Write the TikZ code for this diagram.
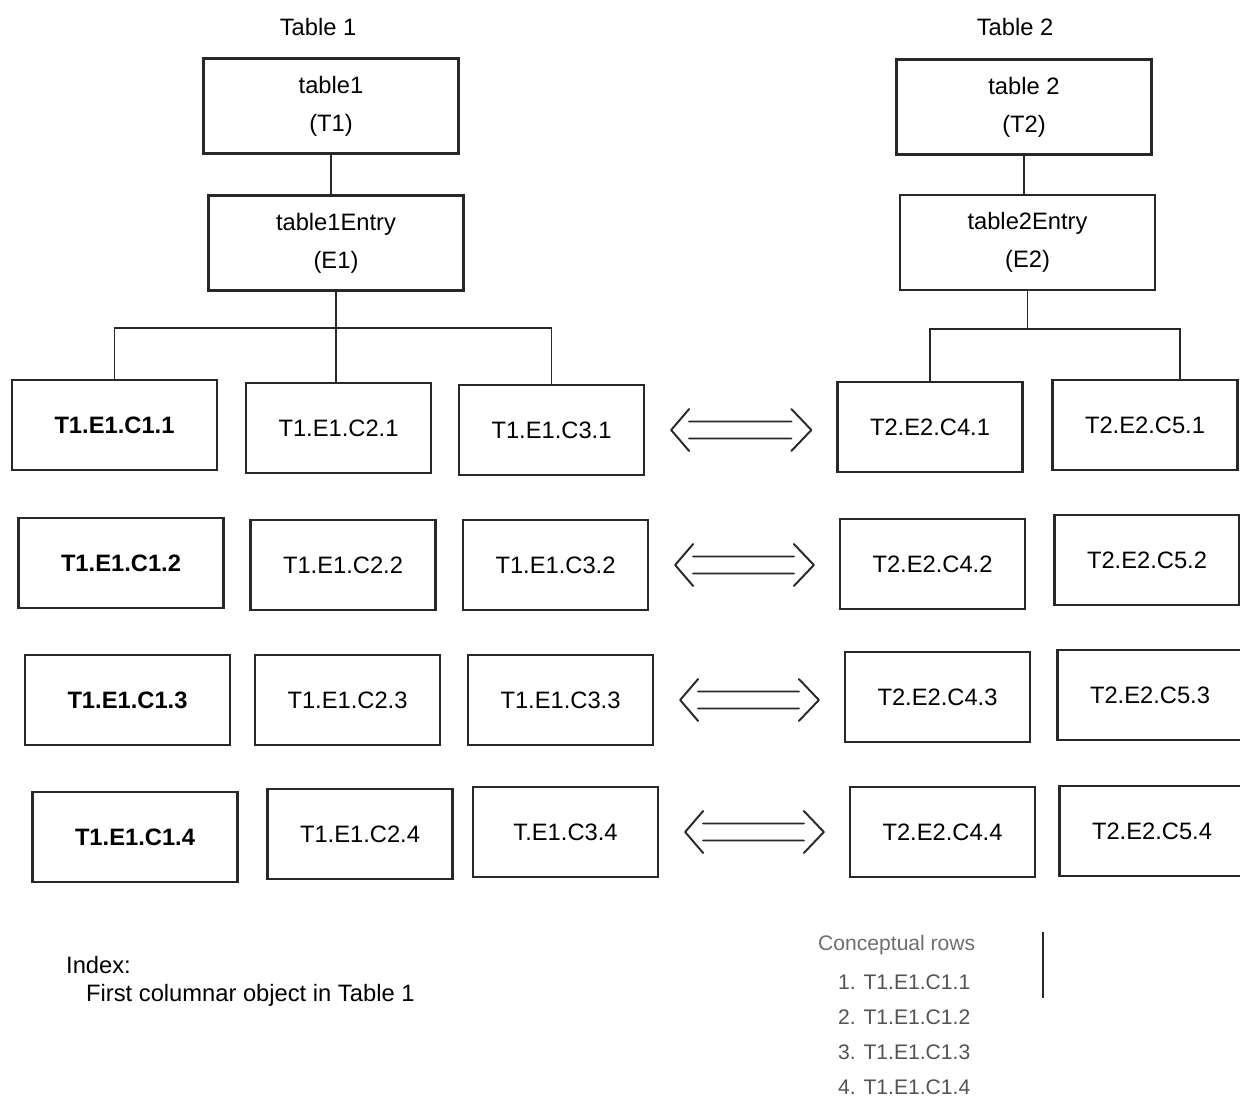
\documentclass[tikz,border=0pt]{standalone}
\usepackage{fontspec}
\setmainfont{Liberation Sans}
\usepackage{tikz}
\usetikzlibrary{arrows.meta, positioning, calc}
\definecolor{inkgray}{RGB}{40,40,40}
\definecolor{softgray}{RGB}{110,110,110}

\begin{document}
\begin{tikzpicture}[
    font=\fontsize{13.5}{16}\selectfont,
    box/.style={draw=inkgray, line width=1.3pt, minimum height=1.8cm,
                align=center, inner sep=2pt},
    tbox/.style={box, minimum width=5.1cm, minimum height=1.9cm,
                 font=\fontsize{13.5}{21.5}\selectfont},
    keybox/.style={box, minimum width=4.1cm,
                   font=\fontsize{13.5}{16}\selectfont\bfseries},
    cellbox/.style={box, minimum width=3.7cm},
    link/.style={line width=1pt, color=inkgray},
    % open double-lined arrow, heads at both ends
    biarrow/.style={line width=1.1pt, color=inkgray, line cap=round, line join=round,
      to path={
        ($(\tikztostart)+(0.88,0.17)$)  -- ($(\tikztotarget)+(-0.90,0.17)$)
        ($(\tikztostart)+(0.88,-0.17)$) -- ($(\tikztotarget)+(-0.90,-0.17)$)
        ($(\tikztostart)+(0.88,0.42)$)  -- ($(\tikztostart)+(0.52,0)$)
                                        -- ($(\tikztostart)+(0.88,-0.42)$)
        ($(\tikztotarget)+(-0.90,0.42)$) -- ($(\tikztotarget)+(-0.50,0)$)
                                         -- ($(\tikztotarget)+(-0.90,-0.42)$)}},
    caption/.style={font=\fontsize{13.5}{16}\selectfont},
    note/.style={font=\fontsize{13.5}{16}\selectfont, anchor=west},
    rows/.style={font=\fontsize{12}{20}\selectfont, text=softgray, align=left},
]
\useasboundingbox (0,0) rectangle (24.8,-22.02);

% ── Table 1 hierarchy ──────────────────────────────────────────────────
\node[tbox]    (table1) at (6.62,-2.12) {table1\\(T1)};
\node[tbox]    (entry1) at (6.72,-4.86) {table1Entry\\(E1)};
\node[caption] (cap1)   at (6.36,-0.54) {Table 1};

% ── Table 2 hierarchy ──────────────────────────────────────────────────
\node[tbox]    (table2) at (20.48,-2.14) {table 2\\(T2)};
\node[tbox]    (entry2) at (20.55,-4.85) {table2Entry\\(E2)};
\node[caption] (cap2)   at (20.30,-0.54) {Table 2};

% ── Row 1 ──────────────────────────────────────────────────────────────
\node[keybox]  (c1-1) at (2.29,-8.50)  {T1.E1.C1.1};
\node[cellbox] (c2-1) at (6.77,-8.56)  {T1.E1.C2.1};
\node[cellbox] (c3-1) at (11.03,-8.60) {T1.E1.C3.1};
\node[cellbox] (c4-1) at (18.60,-8.54) {T2.E2.C4.1};
\node[cellbox] (c5-1) at (22.90,-8.50) {T2.E2.C5.1};

% ── Row 2 ──────────────────────────────────────────────────────────────
\node[keybox]  (c1-2) at (2.42,-11.26)  {T1.E1.C1.2};
\node[cellbox] (c2-2) at (6.86,-11.30)  {T1.E1.C2.2};
\node[cellbox] (c3-2) at (11.11,-11.30) {T1.E1.C3.2};
\node[cellbox] (c4-2) at (18.65,-11.28) {T2.E2.C4.2};
\node[cellbox] (c5-2) at (22.94,-11.20) {T2.E2.C5.2};

% ── Row 3 ──────────────────────────────────────────────────────────────
\node[keybox]  (c1-3) at (2.55,-14.00)  {T1.E1.C1.3};
\node[cellbox] (c2-3) at (6.95,-14.00)  {T1.E1.C2.3};
\node[cellbox] (c3-3) at (11.21,-14.00) {T1.E1.C3.3};
\node[cellbox] (c4-3) at (18.75,-13.94) {T2.E2.C4.3};
\node[cellbox] (c5-3) at (23.00,-13.90) {T2.E2.C5.3};

% ── Row 4 ──────────────────────────────────────────────────────────────
\node[keybox]  (c1-4) at (2.70,-16.74)  {T1.E1.C1.4};
\node[cellbox] (c2-4) at (7.20,-16.68)  {T1.E1.C2.4};
\node[cellbox] (c3-4) at (11.31,-16.64) {T.E1.C3.4};
\node[cellbox] (c4-4) at (18.85,-16.64) {T2.E2.C4.4};
\node[cellbox] (c5-4) at (23.04,-16.62) {T2.E2.C5.4};

% ── Tree links ─────────────────────────────────────────────────────────
\coordinate (bus1) at ($(entry1.south)+(0,-0.72)$);
\coordinate (bus2) at ($(entry2.south)+(0,-0.75)$);
\coordinate (drop5) at ($(c5-1.north)+(0.7,0)$);

\draw[link] (table1.south) -- (table1.south |- entry1.north);
\draw[link] (entry1.south) -- (entry1.south |- c2-1.north);
\draw[link] (c1-1.north) |- (bus1) -| (c3-1.north);

\draw[link] (table2.south) -- (table2.south |- entry2.north);
\draw[link] (entry2.south) -- (bus2);
\draw[link] (c4-1.north) |- (bus2) -| (drop5);

% ── Row correspondence ─────────────────────────────────────────────────
\draw[biarrow] (c3-1.east) to (c3-1.east -| c4-1.west);
\draw[biarrow] (c3-2.east) to (c3-2.east -| c4-2.west);
\draw[biarrow] (c3-3.east) to (c3-3.east -| c4-3.west);
\draw[biarrow] (c3-4.east) to (c3-4.east -| c4-4.west);

% ── Index note ─────────────────────────────────────────────────────────
\node[note] (index) at (1.20,-19.30) {Index:};
\node[note] (first) at (1.60,-19.90) {First columnar object in Table 1};

% ── Conceptual rows ────────────────────────────────────────────────────
\node[rows, anchor=west] (crows) at (16.24,-18.90) {Conceptual rows};
\node[rows, anchor=west, text=inkgray!80] (clist) at (16.64,-20.70)
      {1. T1.E1.C1.1\\2. T1.E1.C1.2\\3. T1.E1.C1.3\\4. T1.E1.C1.4};
\coordinate (bartop) at (20.86,-18.64);
\coordinate (barbot) at (20.86,-19.96);
\draw[link] (bartop) -- (barbot);

\end{tikzpicture}
\end{document}
